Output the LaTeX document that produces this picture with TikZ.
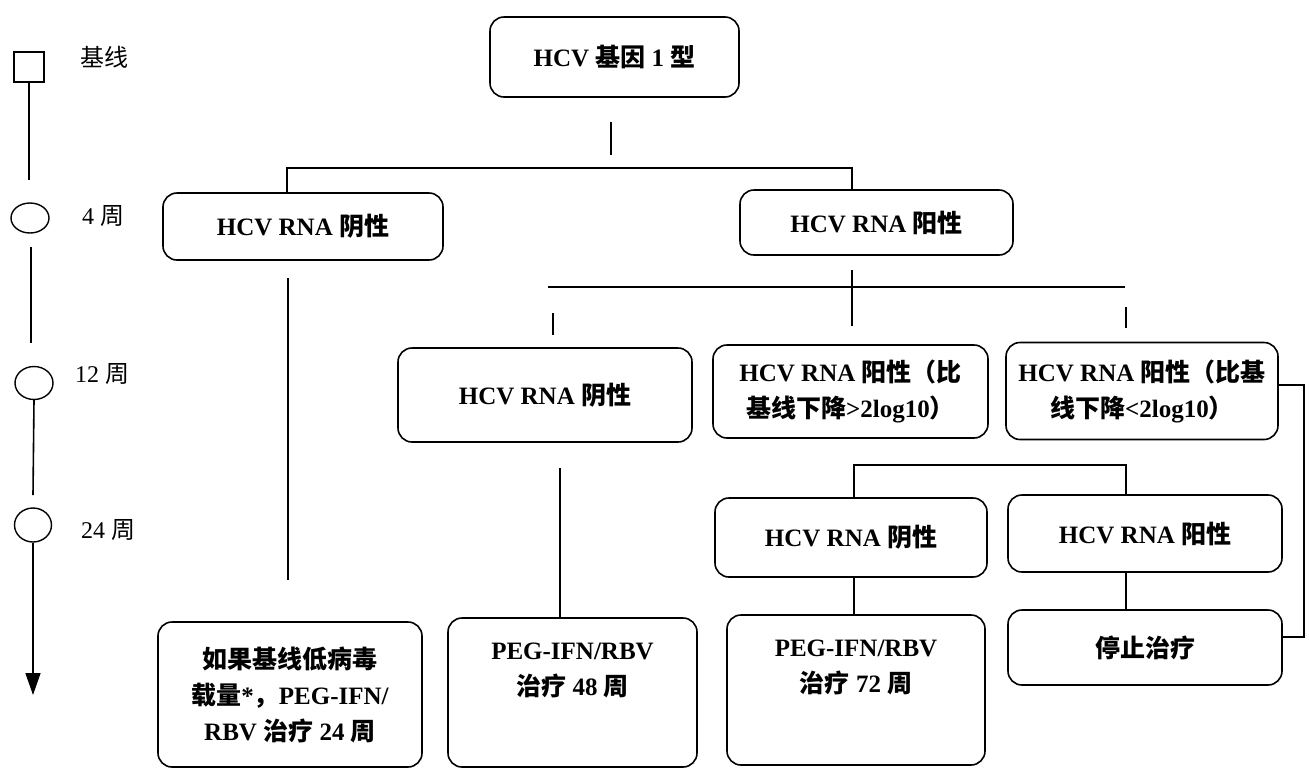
\documentclass[tikz,border=0pt]{standalone}
\usepackage{fontspec}
\setmainfont{Liberation Serif}
\newfontfamily\cjk{Noto Sans CJK SC}
\usetikzlibrary{shapes.geometric,arrows.meta,calc}
\newcommand\zh[1]{{\cjk #1}}
\begin{document}
\begin{tikzpicture}[x=1pt,y=-1pt,
  box/.style={draw, line width=1.6pt, rounded corners=14pt, font=\bfseries\fontsize{25}{36}\selectfont, align=center, inner sep=0pt},
  wh/.style 2 args={minimum width=#1pt, minimum height=#2pt},
  ln/.style={line width=1.6pt},
  tml/.style={font=\fontsize{24}{28}\selectfont, inner sep=0pt},
  tmk/.style={draw, line width=1.4pt, inner sep=0pt},
  lbl/.style={anchor=north, yshift=-26pt, align=center, inner sep=0pt, font=\bfseries\fontsize{25}{36}\selectfont}
]
\useasboundingbox (0,0) rectangle (1309,769);

% timeline
\node[tmk, minimum size=30pt] (b0) at (29,67) {};
\node[tmk, ellipse, wh={38}{30}] (w4) at (30,218) {};
\node[tmk, ellipse, wh={38}{33}] (w12) at (34,383) {};
\node[tmk, ellipse, wh={37}{34}] (w24) at (33,525) {};
\coordinate (c0) at (29,180);
\coordinate (c4a) at (31,247);
\coordinate (c4b) at (31,343);
\coordinate (c12) at (33,495);
\coordinate (c24) at (33,695);
\draw[ln] (b0.south) -- (c0);
\draw[ln] (c4a) -- (c4b);
\draw[ln] (w12.south) -- (c12);
\draw[ln, -{Triangle[length=22pt,width=15pt]}] (w24.south) -- (c24);
\node[tml] (t0) at (104,57) {\zh{基线}};
\node[tml] (t4) at (103,216) {4 \zh{周}};
\node[tml] (t12) at (102,374) {12 \zh{周}};
\node[tml] (t24) at (108,530) {24 \zh{周}};

% boxes
\node[box, wh={249}{80}] (top) at (614.5,57) {HCV \zh{基因} 1 \zh{型}};
\node[box, wh={280}{67}] (L1) at (303,226.5) {HCV RNA \zh{阴性}};
\node[box, wh={273}{65}] (R1) at (876.5,222.5) {HCV RNA \zh{阳性}};
\node[box, wh={294}{94}] (M2) at (545,395) {HCV RNA \zh{阴性}};
\node[box, wh={275}{93}] (G2) at (850.5,391.5) {HCV RNA \zh{阳性（比}\\\zh{基线下降}>2log10\zh{）}};
\node[box, wh={272}{97}] (S2) at (1142,391) {HCV RNA \zh{阳性（比基}\\\zh{线下降}<2log10\zh{）}};
\node[box, wh={272}{79}] (N3) at (851,537.5) {HCV RNA \zh{阴性}};
\node[box, wh={274}{77}] (P3) at (1145,533.5) {HCV RNA \zh{阳性}};
\node[box, wh={264}{145}] (B1) at (290,694.5) {\zh{如果基线低病毒}\\\zh{载量}*\zh{，}PEG-IFN/\\RBV \zh{治疗} 24 \zh{周}};
\node[box, wh={249}{149}, label={[lbl]north:{PEG-IFN/RBV\\\zh{治疗} 48 \zh{周}}}] (B2) at (572.5,692.5) {};
\node[box, wh={258}{150}, label={[lbl]north:{PEG-IFN/RBV\\\zh{治疗} 72 \zh{周}}}] (B3) at (856,690) {};
\node[box, wh={274}{75}] (B4) at (1145,647.5) {\zh{停止治疗}};

% connectors
\coordinate (k1) at (611,122);
\coordinate (k2) at (611,155);
\draw[ln] (k1) -- (k2);
\coordinate (h1l) at (287,168);
\coordinate (h1r) at (852,168);
\draw[ln] (L1.north -| h1l) -- (h1l) -- (h1r) -- (R1.north -| h1r);
\coordinate (v1a) at (288,278);
\coordinate (v1b) at (288,580);
\draw[ln] (v1a) -- (v1b);
\coordinate (h2l) at (548,287);
\coordinate (h2r) at (1125,287);
\draw[ln] (h2l) -- (h2r);
\coordinate (v2a) at (852,270);
\coordinate (v2b) at (852,326);
\draw[ln] (v2a) -- (v2b);
\coordinate (v3a) at (553,313);
\coordinate (v3b) at (553,335);
\draw[ln] (v3a) -- (v3b);
\coordinate (v4a) at (1126,307);
\coordinate (v4b) at (1126,328);
\draw[ln] (v4a) -- (v4b);
\coordinate (m2a) at (560,468);
\draw[ln] (m2a) -- (B2.north -| m2a);
\coordinate (h3l) at (854,465);
\coordinate (h3r) at (1126,465);
\draw[ln] (N3.north -| h3l) -- (h3l) -- (h3r) -- (P3.north -| h3r);
\draw[ln] (N3.south -| h3l) -- (B3.north -| h3l);
\draw[ln] (P3.south -| h3r) -- (B4.north -| h3r);
\coordinate (brt) at (1304,385);
\coordinate (brb) at (1304,637);
\draw[ln] (S2.east |- brt) -- (brt) -- (brb) -- (B4.east |- brb);
\end{tikzpicture}
\end{document}
